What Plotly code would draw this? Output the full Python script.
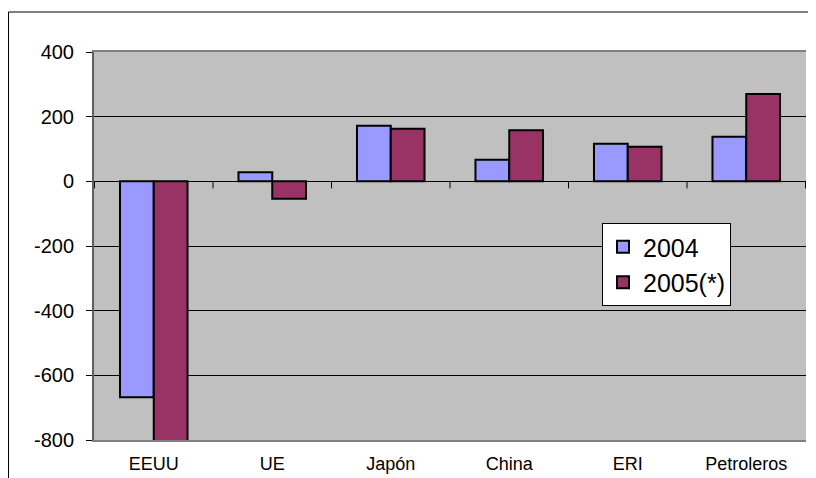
import plotly.graph_objects as go

categories = ["EEUU", "UE", "Japón", "China", "ERI", "Petroleros"]
series_names = ["2004", "2005(*)"]
values_2004 = [-668, 28, 172, 67, 116, 138]
values_2005 = [-805, -54, 163, 158, 107, 270]
y_ticks = [400, 200, 0, -200, -400, -600, -800]

colors = ["#9999FF", "#993366"]

# the page body has an 8px default margin, so the figure is sized to the visible area
W, H = 808, 470
ML, MR, MT, MB = 86, 10, 44, 38
PW, PH = W - ML - MR, H - MT - MB

fig = go.Figure()
for name, vals, col in zip(series_names, [values_2004, values_2005], colors):
    fig.add_trace(go.Bar(
        x=categories, y=vals, name=name,
        marker=dict(color=col, line=dict(color="black", width=2)),
    ))

# category-boundary tick marks hanging below the zero line
for i in range(-1, len(categories)):
    fig.add_shape(type="line", xref="x", yref="y",
                  x0=i + 0.5, x1=i + 0.5,
                  ysizemode="pixel", yanchor=0, y0=0, y1=-7,
                  line=dict(color="black", width=1))

# outer chart frame
fig.add_shape(type="rect", xref="paper", yref="paper",
              x0=(0.5 - ML) / PW, x1=1.05, y0=-0.3, y1=(PH + MT - 4) / PH,
              line=dict(color="black", width=1), fillcolor="rgba(0,0,0,0)",
              layer="below")

fig.update_layout(
    width=W, height=H,
    margin=dict(l=ML, r=MR, t=MT, b=MB, autoexpand=False),
    paper_bgcolor="white", plot_bgcolor="#C0C0C0",
    barmode="group", bargap=0.43, bargroupgap=0,
    font=dict(family="Liberation Sans, Arial, sans-serif", color="black"),
    showlegend=True,
    legend=dict(x=(602 - 94) / PW, y=(440 - 223) / PH,
                xanchor="left", yanchor="top",
                bgcolor="white", bordercolor="black", borderwidth=1,
                font=dict(size=25, family="Liberation Sans, Arial, sans-serif"),
                tracegroupgap=0),
)
fig.update_xaxes(
    type="category", showgrid=False, ticks="", automargin=False,
    showline=True, linecolor="#808080", linewidth=2, mirror=True,
    tickfont=dict(size=18),
    ticklabelstandoff=6,
)
fig.update_yaxes(
    range=[-800, 400], tickvals=y_ticks, ticktext=[str(v) for v in y_ticks],
    showgrid=True, gridcolor="black", gridwidth=1, automargin=False,
    zeroline=True, zerolinecolor="black", zerolinewidth=1,
    showline=True, linecolor="#606060", linewidth=2,
    ticks="outside", ticklen=6, tickcolor="black", tickwidth=1,
    tickfont=dict(size=20),
    ticklabelstandoff=8,
)

fig.write_html("out.html")
